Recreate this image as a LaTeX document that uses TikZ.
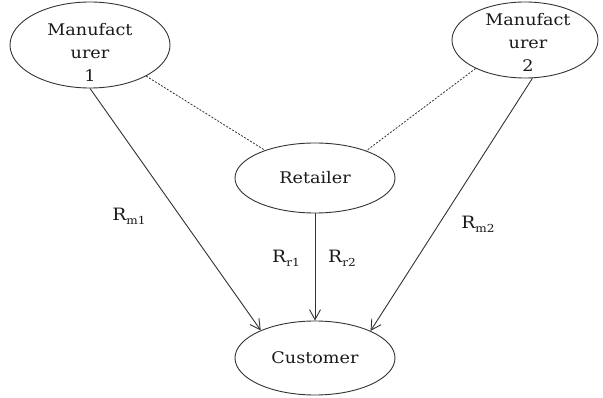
\documentclass[tikz,border=0pt]{standalone}
\usepackage{fontspec}
\setmainfont{DejaVu Serif}[FakeStretch=1.1]
\usetikzlibrary{shapes.geometric,arrows.meta}
\newcommand\lowsub[1]{\raisebox{-0.45ex}{\fontsize{11}{11}\selectfont #1}}
\begin{document}
\begin{tikzpicture}[x=1pt,y=-1pt,
  ent/.style={draw=black!80,line width=0.9pt,ellipse,inner sep=0pt},
  txt/.style={font=\fontsize{16}{23}\selectfont,text=black!90,align=center},
  solidarrow/.style={draw=black!80,line width=0.9pt,-{Straight Barb[length=10pt,width=11pt,line width=0.9pt]}},
  dashline/.style={draw=black!80,line width=0.8pt,dash pattern=on 2pt off 1.5pt},
  lbl/.style={font=\fontsize{17}{18}\selectfont,text=black!90,inner sep=0pt}]
\useasboundingbox (0,0) rectangle (603,398);
\node[ent,minimum width=160pt,minimum height=86pt,
  label={[txt,yshift=-7pt]center:Manufact\\urer\\1}] (m1) at (90,45) {};
\node[ent,minimum width=146pt,minimum height=76pt,
  label={[txt,yshift=-2pt,xshift=3pt]center:Manufact\\urer\\2}] (m2) at (525,40) {};
\node[ent,minimum width=160pt,minimum height=70pt,txt] (ret) at (315,178) {Retailer};
\node[ent,minimum width=160pt,minimum height=74pt,txt] (cus) at (315,358) {Customer};
\draw[dashline] (m1.-29.6) -- (ret.151.5);
\draw[dashline] (m2.-150.8) -- (ret.28.5);
\draw[solidarrow] (m1.-90) -- (cus.153.8);
\draw[solidarrow] (m2.-79.6) -- (cus.26);
\draw[solidarrow] (ret.south) -- (cus.north);
\node[lbl] (lm1) at (129,216) {R\lowsub{m1}};
\node[lbl] (lm2) at (478,224) {R\lowsub{m2}};
\node[lbl] (lr1) at (286,258) {R\lowsub{r1}};
\node[lbl] (lr2) at (342,258) {R\lowsub{r2}};
\end{tikzpicture}
\end{document}
